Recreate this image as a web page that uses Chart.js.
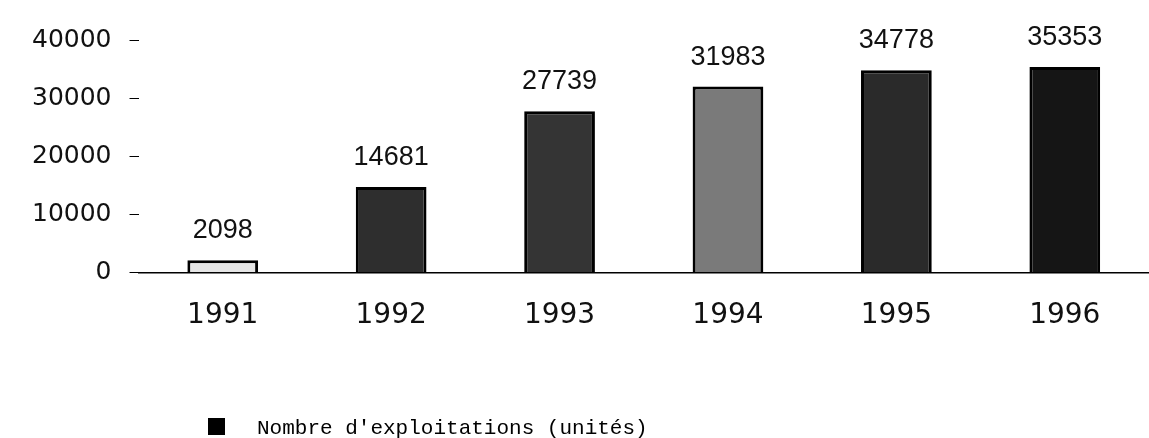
<!DOCTYPE html>
<html>
<head>
<meta charset="utf-8">
<script src="https://cdn.jsdelivr.net/npm/chart.js@4"></script>
<style>
  html, body { margin: 0; padding: 0; background: #fff; }
  #wrap { width: 1149px; height: 438px; }
</style>
</head>
<body>
<div id="wrap"><canvas id="myChart" width="1149" height="438"></canvas></div>
<script>
const years = ['1991', '1992', '1993', '1994', '1995', '1996'];
const exploitations = [2098, 14681, 27739, 31983, 34778, 35353];
const yTicks = [0, 10000, 20000, 30000, 40000];
const seriesLabel = "Nombre d'exploitations (unités)";

// scanned bars: each one a different density of grey
const barFills = ['#e6e6e6', '#2e2e2e', '#343434', '#7a7a7a', '#2a2a2a', '#151515'];

const valueLabels = {
  id: 'valueLabels',
  afterDatasetsDraw(chart) {
    const ctx = chart.ctx;
    const meta = chart.getDatasetMeta(0);
    ctx.save();
    ctx.font = '27px "Liberation Sans", Arial, sans-serif';
    ctx.fillStyle = '#111';
    ctx.textAlign = 'center';
    ctx.textBaseline = 'bottom';
    meta.data.forEach((bar, i) => {
      ctx.fillText(String(chart.data.datasets[0].data[i]), bar.x, bar.y - 16);
    });
    ctx.restore();
  }
};

const bottomLegend = {
  id: 'bottomLegend',
  afterDraw(chart) {
    const ctx = chart.ctx;
    ctx.save();
    ctx.fillStyle = '#000';
    ctx.fillRect(208, 418, 17, 17);
    ctx.font = '21px "Liberation Mono", "Courier New", monospace';
    ctx.textAlign = 'left';
    ctx.textBaseline = 'alphabetic';
    ctx.fillText(chart.data.datasets[0].label, 257, 434);
    ctx.restore();
  }
};

const ctx = document.getElementById('myChart').getContext('2d');
// eslint-disable-next-line
var myChart = new Chart(ctx, {
  type: 'bar',
  data: {
    labels: years,
    datasets: [{
      label: seriesLabel,
      data: exploitations,
      backgroundColor: barFills,
      borderColor: '#000',
      borderWidth: 3,
      barPercentage: 0.42,
      categoryPercentage: 1.0,
    }],
  },
  options: {
    responsive: false,
    animation: false,
    layout: { padding: { top: 40, right: 0, bottom: 86, left: 14 } },
    plugins: {
      legend: { display: false },
      tooltip: { enabled: false },
    },
    scales: {
      x: {
        grid: { display: false },
        border: { display: true, color: '#000', width: 1.5 },
        ticks: {
          padding: 19,
          color: '#111',
          font: { family: '"DejaVu Sans", sans-serif', size: 28 },
        },
      },
      y: {
        min: 0,
        max: 40000,
        afterBuildTicks(axis) {
          axis.ticks = yTicks.map(v => ({ value: v }));
        },
        grid: {
          drawOnChartArea: false,
          drawTicks: true,
          tickLength: 9,
          color: '#000',
          lineWidth: 1,
        },
        border: { display: false },
        ticks: {
          padding: 18,
          color: '#111',
          font: { family: '"DejaVu Sans", sans-serif', size: 25 },
          callback: (v) => String(v),
        },
      },
    },
  },
  plugins: [valueLabels, bottomLegend],
});
</script>
</body>
</html>
